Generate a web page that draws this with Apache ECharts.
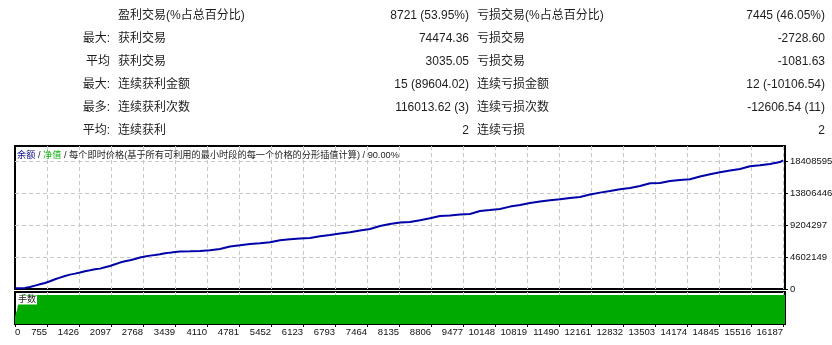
<!DOCTYPE html>
<html><head><meta charset="utf-8">
<script src="https://cdn.jsdelivr.net/npm/echarts@6/dist/echarts.min.js"></script>
<style>html,body{margin:0;padding:0;background:#fff}#c{width:832px;height:345px}</style>
</head><body><div id="c"></div>
<script>
// ---- table text ----
const rowPrefixes = ['', '最大:', '平均', '最大:', '最多:', '平均:'];
const winLabels = ['盈利交易(%占总百分比)', '获利交易', '获利交易', '连续获利金额', '连续获利次数', '连续获利'];
const winValues = ['8721 (53.95%)', '74474.36', '3035.05', '15 (89604.02)', '116013.62 (3)', '2'];
const lossLabels = ['亏损交易(%占总百分比)', '亏损交易', '亏损交易', '连续亏损金额', '连续亏损次数', '连续亏损'];
const lossValues = ['7445 (46.05%)', '-2728.60', '-1081.63', '12 (-10106.54)', '-12606.54 (11)', '2'];

// ---- chart header ----
const headerBalance = '余额';
const headerEquity = '净值';
const headerRest = '每个即时价格(基于所有可利用的最小时段的每一个价格的分形插值计算) / 90.00%';
const lotsTitle = '手数';

// ---- axes ----
const xTickLabels = ['0','755','1426','2097','2768','3439','4110','4781','5452','6123','6793','7464','8135','8806','9477','10148','10819','11490','12161','12832','13503','14174','14845','15516','16187'];
const yTickLabels = ['0','4602149','9204297','13806446','18408595'];
const xStart = 84.2, xStep = 670.96, xEnd = 16229;
const yStep = 4602148.75, yMax = 20565852;

// ---- balance curve (trade number, balance) ----
const trades = [84,294,399,503,608,713,818,923,1028,1132,1237,1342,1447,1552,1657,1761,1866,1971,2076,2181,2286,2390,2495,2600,2705,2810,2915,3020,3124,3229,3334,3439,3544,3753,3963,4173,4382,4592,4802,5011,5221,5431,5641,5850,6060,6270,6479,6689,6899,7108,7318,7528,7737,7947,8157,8366,8576,8786,8995,9205,9415,9624,9834,10044,10253,10463,10673,10882,11092,11302,11512,11721,11931,12141,12350,12560,12770,12979,13189,13399,13608,13818,14028,14237,14447,14657,14866,15076,15286,15495,15705,15915,16125,16187];
const balance = [120000,140000,290000,490000,680000,860000,1110000,1400000,1640000,1870000,2070000,2210000,2360000,2550000,2690000,2830000,2930000,3120000,3310000,3550000,3800000,3980000,4130000,4310000,4520000,4660000,4800000,4890000,4990000,5130000,5230000,5320000,5380000,5420000,5470000,5570000,5750000,6100000,6280000,6470000,6570000,6720000,7000000,7150000,7250000,7330000,7580000,7770000,7970000,8150000,8400000,8630000,9060000,9350000,9550000,9640000,9880000,10170000,10500000,10560000,10700000,10790000,11220000,11360000,11510000,11850000,12080000,12370000,12570000,12760000,12900000,13090000,13230000,13580000,13860000,14090000,14340000,14530000,14810000,15200000,15240000,15530000,15680000,15780000,16170000,16500000,16780000,17030000,17260000,17650000,17790000,17980000,18260000,18510000];

// ---- lots ----
const lotTrades = [84, 99, 126, 157, 189, 231, 273, 16229];
const lots = [24, 35, 47, 74, 82, 100, 100, 100];
const lotsMax = 110;

const TXT = "'Liberation Sans','Noto Sans CJK SC',sans-serif";
const textColor = '#1e1e1e';

const graphics = [];
const rowY0 = 16, rowStep = 23;
for (let i = 0; i < winLabels.length; i++) {
  const y = rowY0 + i * rowStep;
  const base = {font: '12px ' + TXT, fill: textColor, verticalAlign: 'middle'};
  graphics.push({type: 'text', silent: true, style: Object.assign({}, base, {text: rowPrefixes[i], x: 110, y: y, align: 'right'})});
  graphics.push({type: 'text', silent: true, style: Object.assign({}, base, {text: winLabels[i], x: 118, y: y, align: 'left'})});
  graphics.push({type: 'text', silent: true, style: Object.assign({}, base, {text: winValues[i], x: 469, y: y, align: 'right'})});
  graphics.push({type: 'text', silent: true, style: Object.assign({}, base, {text: lossLabels[i], x: 477, y: y, align: 'left'})});
  graphics.push({type: 'text', silent: true, style: Object.assign({}, base, {text: lossValues[i], x: 825, y: y, align: 'right'})});
}
const hf = '9.2px ' + TXT;
graphics.push({type: 'text', silent: true, z: 100, style: {
  x: 17, y: 155, verticalAlign: 'middle', align: 'left',
  text: '{b|' + headerBalance + '} / {g|' + headerEquity + '} / ' + headerRest,
  font: hf, fill: '#222',
  rich: {b: {fill: '#10108a', font: hf}, g: {fill: '#10b010', font: hf}}
}});
graphics.push({type: 'text', silent: true, z: 100, style: {
  x: 17, y: 300, verticalAlign: 'middle', align: 'left',
  text: lotsTitle, font: '9px ' + TXT, fill: '#222',
  backgroundColor: '#fff', padding: [0, 1, 0, 1], lineHeight: 9
}});

const dashed = {show: true, showMinLine: false, showMaxLine: false, lineStyle: {color: '#c8c8c8', type: [4, 3], width: 1}};
const chart = echarts.init(document.getElementById('c'), null, {renderer: 'canvas'});
chart.setOption({
  animation: false,
  backgroundColor: '#fff',
  grid: [
    {left: 15, top: 146, width: 770, height: 143, show: true, borderColor: '#000', borderWidth: 2, backgroundColor: 'transparent', containLabel: false, outerBoundsMode: 'none'},
    {left: 15, top: 292, width: 770, height: 32, show: true, borderColor: '#000', borderWidth: 2, backgroundColor: 'transparent', containLabel: false, outerBoundsMode: 'none'}
  ],
  xAxis: [
    {type: 'value', gridIndex: 0, min: xStart, max: xEnd, interval: xStep,
     axisLine: {show: false}, axisTick: {show: false}, axisLabel: {show: false}, splitLine: dashed},
    {type: 'value', gridIndex: 1, min: xStart, max: xEnd, interval: xStep,
     axisLine: {show: false},
     axisTick: {show: true, length: 3, inside: false, lineStyle: {color: '#000'}},
     axisLabel: {show: true, fontSize: 9.5, fontFamily: TXT, color: '#111', margin: 4, align: 'right',
                 alignMinLabel: 'left', showMaxLabel: false, hideOverlap: false,
                 formatter: (v, i) => (xTickLabels[i] !== undefined ? xTickLabels[i] : '')},
     splitLine: dashed}
  ],
  yAxis: [
    {type: 'value', gridIndex: 0, position: 'right', min: 0, max: yMax, interval: yStep,
     axisLine: {show: false},
     axisTick: {show: true, length: 3, inside: false, lineStyle: {color: '#000'}},
     axisLabel: {show: true, fontSize: 9.5, fontFamily: TXT, color: '#111', margin: 5, showMaxLabel: false, hideOverlap: false,
                 formatter: (v, i) => (yTickLabels[i] !== undefined ? yTickLabels[i] : '')},
     splitLine: dashed},
    {type: 'value', gridIndex: 1, min: 0, max: lotsMax, show: false, splitLine: {show: false}}
  ],
  series: [
    {type: 'line', xAxisIndex: 1, yAxisIndex: 1, step: 'end', showSymbol: false, symbol: 'none',
     data: lotTrades.map((t, i) => [t, lots[i]]),
     lineStyle: {width: 0, color: '#00aa00'}, areaStyle: {color: '#00aa00', opacity: 1}, z: 2},
    {type: 'line', xAxisIndex: 0, yAxisIndex: 0, showSymbol: false, symbol: 'none',
     data: trades.map((t, i) => [t, balance[i]]),
     lineStyle: {width: 2, color: '#0000a8'}, z: 3}
  ],
  graphic: graphics
});
</script>
</body></html>
